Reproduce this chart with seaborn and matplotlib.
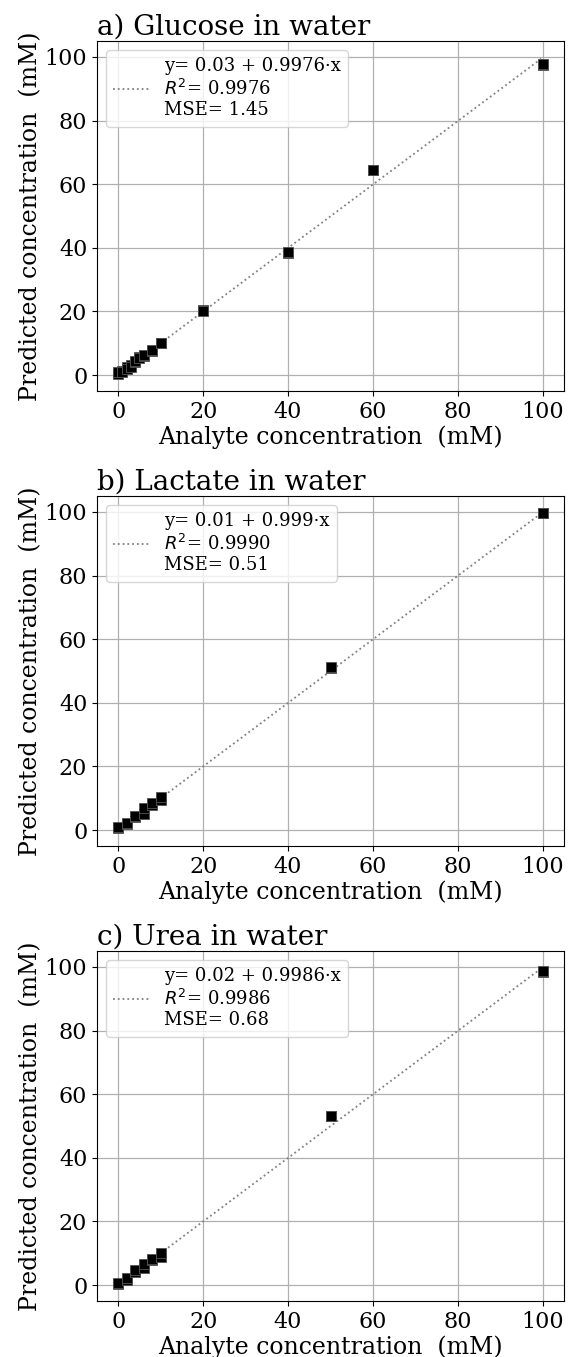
import numpy as np
import pandas as pd
import matplotlib
matplotlib.use('Agg')
import matplotlib.pyplot as plt
import seaborn as sns

# Values (replicates per concentration)
glucose_x = [0, 0, 1, 1, 2, 2, 3, 3, 4, 4, 5, 5, 6, 6, 8, 8, 10, 10, 20, 20, 40, 40, 60, 60, 100, 100]
glucose_y = [0.3, 0.8, 1.2, 0.8, 2.5, 2.0, 3.0, 2.6, 4.0, 4.4, 5.6, 5.2, 6.0, 6.4, 7.5, 7.8, 10.0, 10.2, 20.5, 20.2, 38.5, 38.7, 64.5, 64.3, 97.5, 97.7]
lactate_x = [0, 0, 2, 2, 4, 4, 6, 6, 8, 8, 10, 10, 50, 50, 100, 100]
lactate_y = [0.6, 0.9, 2.0, 2.3, 4.0, 4.5, 5.2, 6.8, 7.8, 8.6, 9.5, 10.5, 51.0, 51.3, 99.5, 99.7]
urea_x = [0, 0, 2, 2, 4, 4, 6, 6, 8, 8, 10, 10, 50, 50, 100, 100]
urea_y = [0.4, 0.8, 1.6, 2.1, 4.0, 4.6, 5.3, 6.6, 7.9, 8.3, 8.8, 10.0, 53.0, 53.1, 98.5, 98.7]

titles = ['a) Glucose in water', 'b) Lactate in water', 'c) Urea in water']
intercepts = [0.03, 0.01, 0.02]
slopes = [0.9976, 0.999, 0.9986]
slope_txt = ['0.9976', '0.999', '0.9986']
r2_txt = ['0.9976', '0.9990', '0.9986']
mse_txt = ['1.45', '0.51', '0.68']

sns.set_style('ticks')
plt.rcParams['font.family'] = ['DejaVu Serif']
for k in ['text.color', 'axes.labelcolor', 'xtick.color', 'ytick.color', 'axes.edgecolor']:
    plt.rcParams[k] = 'black'

fig = plt.figure(figsize=(5.69, 13.57), dpi=100)
boxes = [[0.1705, 0.7119, 0.8207, 0.2579],
         [0.1705, 0.3766, 0.8207, 0.2579],
         [0.1705, 0.0413, 0.8207, 0.2579]]

datasets = [(glucose_x, glucose_y), (lactate_x, lactate_y), (urea_x, urea_y)]

for i, (xs, ys) in enumerate(datasets):
    ax = fig.add_axes(boxes[i])
    df = pd.DataFrame({'x': xs, 'y': ys})
    fit = pd.DataFrame({'x': [0, 100]})
    fit['y'] = intercepts[i] + slopes[i] * fit['x']
    label = ('y= ' + str(intercepts[i]) + ' + ' + slope_txt[i] + '\u00b7x\n'
             + '$R^2$= ' + r2_txt[i] + '\nMSE= ' + mse_txt[i])
    sns.lineplot(data=fit, x='x', y='y', ax=ax, color='gray', linestyle=':',
                 linewidth=1.3, label=label, zorder=1)
    sns.scatterplot(data=df, x='x', y='y', ax=ax, marker='s', color='black',
                    edgecolor='#555555', linewidth=0.6, s=50, zorder=3)
    ax.set_xlim(-5, 105)
    ax.set_ylim(-5, 105)
    ax.set_xticks([0, 20, 40, 60, 80, 100])
    ax.set_yticks([0, 20, 40, 60, 80, 100])
    ax.grid(True, color='#b0b0b0', linewidth=0.9)
    ax.set_axisbelow(True)
    ax.tick_params(labelsize=16)
    ax.set_xlabel('Analyte concentration  (mM)', fontsize=17, labelpad=2)
    ax.set_ylabel('Predicted concentration  (mM)', fontsize=17, labelpad=2)
    ax.set_title(titles[i], loc='left', fontsize=20, pad=3)
    ax.legend(loc='upper left', fontsize=13, handlelength=2.0,
              labelspacing=0.1, borderpad=0.4)

fig.savefig('out.png', dpi=100)
